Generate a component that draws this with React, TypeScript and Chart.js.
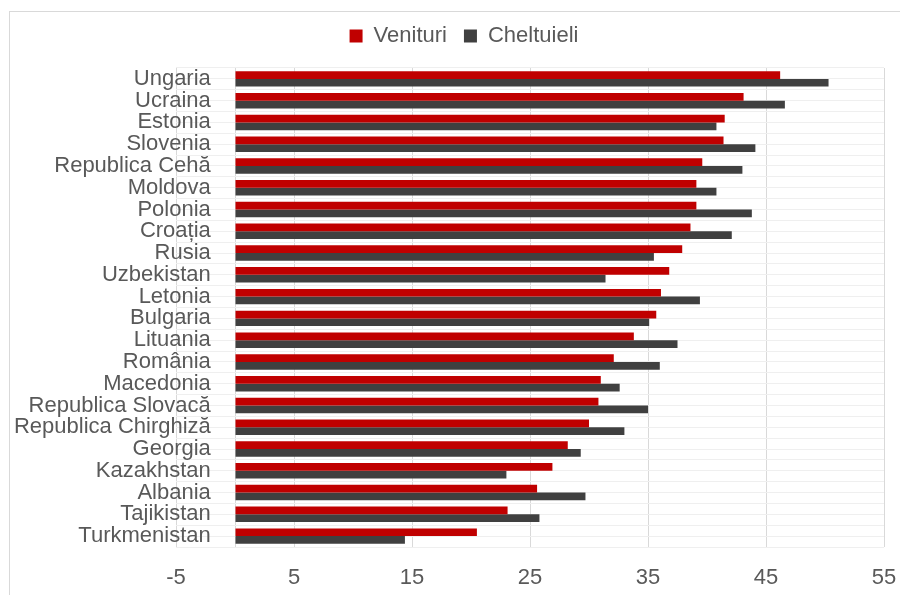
import { useEffect, useRef } from "react";
import { Chart, registerables } from "chart.js";

Chart.register(...registerables);

const categories = [
  "Ungaria",
  "Ucraina",
  "Estonia",
  "Slovenia",
  "Republica Cehă",
  "Moldova",
  "Polonia",
  "Croația",
  "Rusia",
  "Uzbekistan",
  "Letonia",
  "Bulgaria",
  "Lituania",
  "România",
  "Macedonia",
  "Republica Slovacă",
  "Republica Chirghiză",
  "Georgia",
  "Kazakhstan",
  "Albania",
  "Tajikistan",
  "Turkmenistan",
];

const venituri = [
  46.2, 43.1, 41.5, 41.4, 39.6, 39.1, 39.1, 38.6, 37.9, 36.8, 36.1, 35.7, 33.8,
  32.1, 31.0, 30.8, 30.0, 28.2, 26.9, 25.6, 23.1, 20.5,
];

const cheltuieli = [
  50.3, 46.6, 40.8, 44.1, 43.0, 40.8, 43.8, 42.1, 35.5, 31.4, 39.4, 35.1, 37.5,
  36.0, 32.6, 35.0, 33.0, 29.3, 23.0, 29.7, 25.8, 14.4,
];

const seriesNames = ["Venituri", "Cheltuieli"];
const xMin = -5;
const xMax = 55;
const xStep = 10;
const axisCross = 0; // value where the category axis line sits
const labelAnchor = -2.05; // x value where category labels end (Excel label offset)

// half-row grid labels (Excel draws faint lines at boundaries and centers)
const halfRows = categories.flatMap(() => ["", ""]);

const FONT = "'Liberation Sans', Arial, sans-serif";
const TEXT = "#595959";

export default function App() {
  const ref = useRef<HTMLCanvasElement>(null);

  useEffect(() => {
    document.documentElement.style.overflow = "hidden";
    document.body.style.margin = "0";
    const legendSpacer = {
      id: "legendSpacer",
      beforeInit(chart: any) {
        const orig = chart.legend.fit;
        chart.legend.fit = function () {
          orig.call(this);
          this.height = 60;
        };
      },
    };
    const chart = new Chart(ref.current!, {
      type: "bar",
      data: {
        labels: categories,
        datasets: [
          {
            label: seriesNames[0],
            data: venituri,
            backgroundColor: "#c00000",
            yAxisID: "y",
            categoryPercentage: 0.71,
            barPercentage: 1,
          },
          {
            label: seriesNames[1],
            data: cheltuieli,
            backgroundColor: "#404040",
            yAxisID: "y",
            categoryPercentage: 0.71,
            barPercentage: 1,
          },
        ],
      },
      plugins: [legendSpacer],
      options: {
        indexAxis: "y",
        animation: false,
        responsive: false,
        layout: { padding: { left: 36, right: 16, top: 0, bottom: 4 } },
        plugins: {
          tooltip: { enabled: false },
          legend: {
            position: "top",
            align: "center",
            labels: {
              boxWidth: 13,
              boxHeight: 13,
              padding: 17,
              color: TEXT,
              font: { family: FONT, size: 22 },
            },
          },
        },
        scales: {
          x: {
            type: "linear",
            min: xMin,
            max: xMax,
            afterBuildTicks: (s: any) => {
              s.ticks.push({ value: axisCross });
              s.ticks.sort((a: any, b: any) => a.value - b.value);
            },
            afterFit: (s: any) => {
              s.height = 44;
              s.paddingLeft = 0;
              s.paddingRight = 0;
            },
            ticks: {
              stepSize: xStep,
              color: TEXT,
              padding: 18,
              font: { family: FONT, size: 22 },
              callback: (v: any) => (v === axisCross ? "" : String(v)),
            },
            grid: { color: "#d9d9d9", drawTicks: false },
            border: { display: false },
          },
          y: {
            type: "category",
            position: { x: labelAnchor } as any,
            grid: { display: false, drawTicks: false },
            border: { display: false },
            ticks: {
              autoSkip: false,
              color: TEXT,
              padding: 0,
              font: { family: FONT, size: 22 },
            },
          } as any,
          y2: {
            type: "category",
            axis: "y",
            labels: halfRows,
            position: "left",
            offset: true,
            grid: { color: "#efefef", drawTicks: false, offset: true },
            ticks: { display: false },
            border: { display: false },
            afterFit: (s: any) => {
              s.width = 132;
              s.paddingTop = 0;
              s.paddingBottom = 0;
            },
          } as any,
        },
      },
    });
    return () => chart.destroy();
  }, []);

  return (
    <div
      style={{
        position: "relative",
        width: 900,
        height: 595,
        overflow: "hidden",
        background: "#ffffff",
      }}
    >
      <div
        style={{
          position: "absolute",
          left: 9,
          top: 11,
          width: 900,
          height: 600,
          border: "1px solid #d9d9d9",
          pointerEvents: "none",
        }}
      />
      <canvas
        ref={ref}
        width={892}
        height={587}
        style={{ position: "absolute", left: 8, top: 8, display: "block" }}
      />
    </div>
  );
}
